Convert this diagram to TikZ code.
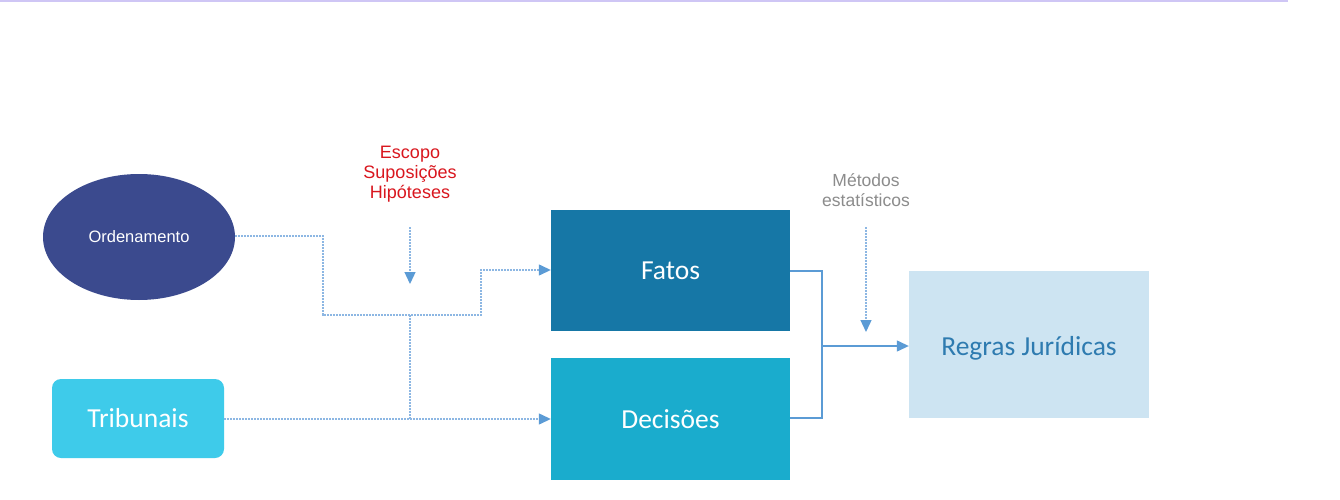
\documentclass[tikz,border=0pt]{standalone}
\usepackage{fontspec}
\setmainfont{Liberation Sans}
\newfontfamily\boxfont{Carlito}
\usetikzlibrary{arrows.meta,shapes.geometric}
\definecolor{ordc}{HTML}{3B4A8E}
\definecolor{tribc}{HTML}{3ECBEA}
\definecolor{fatc}{HTML}{1677A6}
\definecolor{decc}{HTML}{1AACCD}
\definecolor{regc}{HTML}{CDE4F2}
\definecolor{regt}{HTML}{2E7BB0}
\definecolor{linec}{HTML}{5B9BD5}
\definecolor{dotc}{HTML}{8DB7E3}
\definecolor{redc}{HTML}{D9161E}
\definecolor{grayc}{HTML}{8C8C8C}
\definecolor{topc}{HTML}{CFC6F5}
\tikzset{
  boxtext/.style={font=\boxfont\fontsize{27.5}{30}\selectfont},
  dotline/.style={draw=dotc, line width=1.3pt, dash pattern=on 2pt off 1pt},
  solidline/.style={draw=linec, line width=1.3pt},
  tip/.style={-{Triangle[length=12pt,width=11pt,color=linec]}},
  lbl/.style={align=center, inner sep=0pt},
}
\begin{document}
\begin{tikzpicture}[x=1pt,y=-1pt]
\useasboundingbox (0,0) rectangle (1340,500);
\fill[white] (0,0) rectangle (1340,500);
\fill[topc] (0,0) rectangle (1288,2);
% nodes
\node[ellipse, fill=ordc, minimum width=192pt, minimum height=126pt, inner sep=0pt,
  text=white, font=\fontsize{16.5}{18}\selectfont] (ord) at (139,237) {Ordenamento};
\node[rounded corners=9pt, fill=tribc, minimum width=172pt, minimum height=79pt,
  text=white, boxtext] (trib) at (138,418.5) {Tribunais};
\node[fill=fatc, minimum width=239pt, minimum height=121pt, text=white, boxtext]
  (fat) at (670.5,270.5) {Fatos};
\node[fill=decc, minimum width=239pt, minimum height=122pt, text=white, boxtext]
  (dec) at (670.5,419) {Decisões};
\node[fill=regc, minimum width=240pt, minimum height=147pt,
  label={[boxtext, text=regt, yshift=-3.5pt]center:Regras Jurídicas}]
  (reg) at (1029,344.5) {};
\node[lbl, text=redc, font=\fontsize{18}{20}\selectfont] (esc) at (410,174)
  {Escopo\\Suposições\\Hipóteses};
\node[lbl, text=grayc, font=\fontsize{17.5}{19.5}\selectfont] (met) at (866,190)
  {Métodos\\estatísticos};
% coordinates
\coordinate (a1) at (323,236);
\coordinate (a2) at (323,315);
\coordinate (a3) at (481,315);
\coordinate (a4) at (481,270);
\coordinate (j1) at (410,315);
\coordinate (j2) at (410,419);
\coordinate (e1) at (410,227);
\coordinate (e2) at (410,284);
\coordinate (m1) at (866,227);
\coordinate (m2) at (866,332);
\coordinate (r1) at (822,271);
\coordinate (r2) at (822,418);
\coordinate (r3) at (822,346);
% connectors
\draw[dotline, tip] (ord.east |- a1) -- (a1) -- (a2) -- (a3) -- (a4) -- (fat.west |- a4);
\draw[dotline, tip] (e1) -- (e2);
\draw[dotline] (j1) -- (j2);
\draw[dotline, tip] (trib.east |- j2) -- (dec.west |- j2);
\draw[dotline, tip] (m1) -- (m2);
\draw[solidline] (fat.east |- r1) -- (r1) -- (r2) -- (dec.east |- r2);
\draw[solidline, tip] (r3) -- (reg.west |- r3);
\end{tikzpicture}
\end{document}
